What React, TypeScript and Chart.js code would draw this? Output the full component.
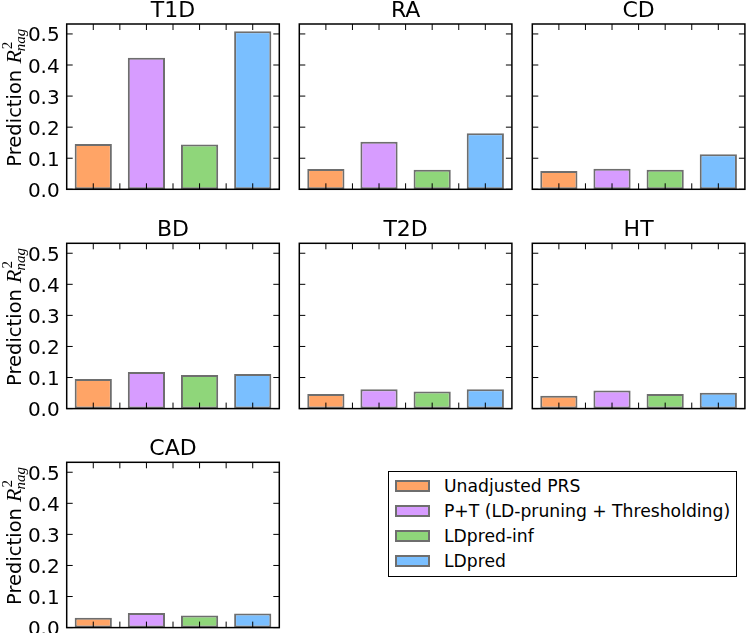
import React, { useEffect, useRef } from "react";
import { Chart, registerables } from "chart.js";

Chart.register(...registerables);

const methods = [
  "Unadjusted PRS",
  "P+T (LD-pruning + Thresholding)",
  "LDpred-inf",
  "LDpred",
];
const methodColors = ["#ffa466", "#d79cff", "#8fd67a", "#7abfff"];
const edgeColor = "#6e6e6e";

const traits = ["T1D", "RA", "CD", "BD", "T2D", "HT", "CAD"];
const t1d = [0.146, 0.423, 0.144, 0.509];
const ra = [0.065, 0.153, 0.063, 0.18];
const cd = [0.059, 0.066, 0.063, 0.113];
const bd = [0.095, 0.118, 0.108, 0.111];
const t2d = [0.047, 0.062, 0.055, 0.062];
const ht = [0.041, 0.058, 0.047, 0.051];
const cad = [0.032, 0.047, 0.039, 0.045];
const traitValues = [t1d, ra, cd, bd, t2d, ht, cad];

const yTicks = [0.0, 0.1, 0.2, 0.3, 0.4, 0.5];
const yTickLabels = ["0.0", "0.1", "0.2", "0.3", "0.4", "0.5"];
const yMax = 0.532;

const W = 746;
const H = 633;
const colLefts = [66.7, 299.3, 532.3];
const rowTops = [24, 243.3, 462.3];
const plotW = 212.6;
const plotH = 165.3;

const FONT = '"DejaVu Sans", "Bitstream Vera Sans", sans-serif';

function drawYLabel(ctx: CanvasRenderingContext2D, cx: number, cy: number) {
  ctx.save();
  ctx.translate(cx, cy);
  ctx.rotate(-Math.PI / 2);
  ctx.fillStyle = "#000";
  ctx.textBaseline = "alphabetic";
  ctx.textAlign = "left";
  const f1 = `19.5px ${FONT}`;
  const fR = `italic 22px "Liberation Serif", "DejaVu Serif", serif`;
  const fS = `italic 15px "Liberation Serif", "DejaVu Serif", serif`;
  const fSup = `15px "Liberation Serif", "DejaVu Serif", serif`;
  ctx.font = f1;
  const t1 = "Prediction ";
  const w1 = ctx.measureText(t1).width;
  ctx.font = fR;
  const wR = ctx.measureText("R").width;
  ctx.font = fSup;
  const w2 = ctx.measureText("2").width;
  ctx.font = fS;
  const wn = ctx.measureText("nag").width;
  const total = w1 + wR + 1 + Math.max(w2, wn);
  let x = -total / 2;
  ctx.font = f1;
  ctx.fillText(t1, x, 0);
  x += w1;
  ctx.font = fR;
  ctx.fillText("R", x, 0);
  x += wR + 1;
  ctx.font = fSup;
  ctx.fillText("2", x, -9);
  ctx.font = fS;
  ctx.fillText("nag", x - 2, 4);
  ctx.restore();
}

function makePanelPlugin(title: string, showY: boolean) {
  return {
    id: "panelDecor",
    afterDatasetsDraw(chart: any) {
      const { ctx, chartArea: a, scales } = chart;
      const x = scales.x;
      const y = scales.y;
      ctx.save();
      ctx.strokeStyle = "#000";
      ctx.lineWidth = 1;
      const L = 6;
      yTicks.forEach((v) => {
        const py = y.getPixelForValue(v);
        ctx.beginPath();
        ctx.moveTo(a.left, py);
        ctx.lineTo(a.left + L, py);
        ctx.moveTo(a.right, py);
        ctx.lineTo(a.right - L, py);
        ctx.stroke();
      });
      const n = methods.length;
      const xs: number[] = [];
      for (let i = 0; i < n; i++) {
        xs.push(x.getPixelForValue(i));
      }
      const all: number[] = [...xs];
      for (let i = 1; i < n; i++) all.push((xs[i - 1] + xs[i]) / 2);
      all.forEach((px) => {
        ctx.beginPath();
        ctx.moveTo(px, a.top);
        ctx.lineTo(px, a.top + L);
        ctx.moveTo(px, a.bottom);
        ctx.lineTo(px, a.bottom - L);
        ctx.stroke();
      });
      ctx.lineWidth = 1.5;
      ctx.strokeRect(a.left, a.top, a.right - a.left, a.bottom - a.top);
      ctx.fillStyle = "#000";
      ctx.font = `22px ${FONT}`;
      ctx.textAlign = "center";
      ctx.textBaseline = "alphabetic";
      ctx.fillText(title, (a.left + a.right) / 2, a.top - 7);
      if (showY) {
        ctx.font = `20px ${FONT}`;
        ctx.textAlign = "right";
        yTicks.forEach((v, i) => {
          const py = y.getPixelForValue(v);
          ctx.fillText(yTickLabels[i], a.left - 7, py + 7.5);
        });
        drawYLabel(ctx, 21, (a.top + a.bottom) / 2 - 10);
      }
      ctx.restore();
    },
  };
}

function Panel({ index }: { index: number }) {
  const ref = useRef<HTMLCanvasElement | null>(null);
  useEffect(() => {
    const col = index % 3;
    const row = Math.floor(index / 3);
    const left = colLefts[col];
    const top = rowTops[row];
    const chart = new Chart(ref.current as HTMLCanvasElement, {
      type: "bar",
      data: {
        labels: methods,
        datasets: [
          {
            data: traitValues[index],
            backgroundColor: methodColors,
            borderColor: edgeColor,
            borderWidth: 2,
            borderSkipped: false,
            barPercentage: 0.7,
            categoryPercentage: 1.0,
          },
        ],
      },
      options: {
        responsive: false,
        animation: false,
        devicePixelRatio: 1,
        layout: {
          padding: {
            left,
            top,
            right: W - left - plotW,
            bottom: H - top - plotH,
          },
        },
        plugins: {
          legend: { display: false },
          tooltip: { enabled: false },
          title: { display: false },
        },
        scales: {
          x: { type: "category", display: false, offset: true },
          y: { display: false, min: 0, max: yMax },
        },
      },
      plugins: [makePanelPlugin(traits[index], col === 0)],
    });
    return () => chart.destroy();
  }, [index]);
  return (
    <canvas
      ref={ref}
      width={W}
      height={H}
      style={{ position: "absolute", left: 0, top: 0, width: W, height: H }}
    />
  );
}

function Legend() {
  return (
    <div
      style={{
        position: "absolute",
        left: 388,
        top: 471,
        width: 349,
        height: 106,
        boxSizing: "border-box",
        border: "1.5px solid #000",
        background: "#fff",
        fontFamily: FONT,
        fontSize: 17.2,
        color: "#000",
      }}
    >
      {methods.map((m, i) => (
        <div key={m}>
          <div
            style={{
              position: "absolute",
              left: 6,
              top: 8 + i * 25,
              width: 35,
              height: 12,
              boxSizing: "border-box",
              border: `2px solid ${edgeColor}`,
              background: methodColors[i],
            }}
          />
          <div
            style={{
              position: "absolute",
              left: 55,
              top: 3 + i * 25,
              lineHeight: "22px",
              whiteSpace: "nowrap",
            }}
          >
            {m}
          </div>
        </div>
      ))}
    </div>
  );
}

export default function App() {
  return (
    <div
      style={{
        position: "absolute",
        left: 0,
        top: 0,
        width: W,
        height: H,
        overflow: "hidden",
        background: "#fff",
      }}
    >
      {traits.map((t, i) => (
        <Panel key={t} index={i} />
      ))}
      <Legend />
    </div>
  );
}
